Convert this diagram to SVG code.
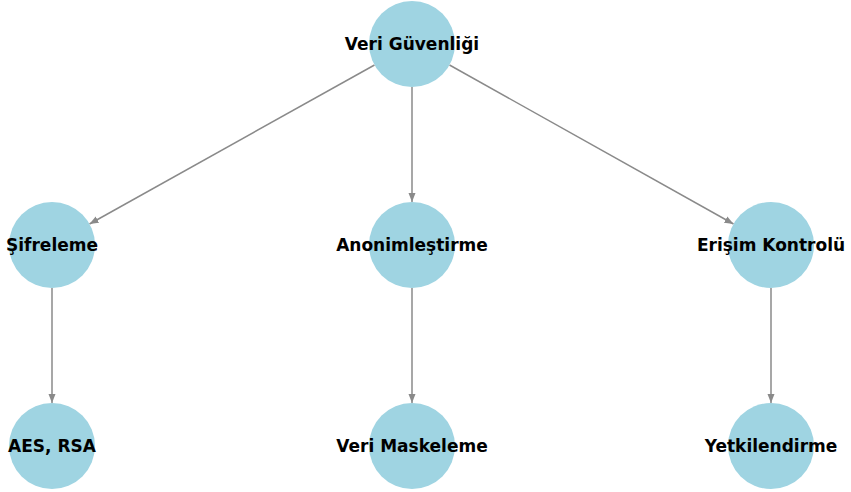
<svg xmlns="http://www.w3.org/2000/svg" width="851" height="492" viewBox="0 0 851 492">
<defs>
<style>
.node circle{fill:#9fd4e2;}
.node text{font-family:"DejaVu Sans",sans-serif;font-weight:bold;font-size:17px;fill:#000;text-anchor:middle;dominant-baseline:central;}
.edge{stroke:#8a8a8a;stroke-width:1.5;fill:none;marker-end:url(#arr);}
</style>
<marker id="arr" markerUnits="userSpaceOnUse" markerWidth="10" markerHeight="8" refX="9" refY="4" orient="auto">
<path d="M0,0.5 L9,4 L0,7.5 Z" fill="#8a8a8a"/>
</marker>
</defs>
<rect width="851" height="492" fill="#fff"/>
<g id="edges">
<line class="edge" x1="374.5" y1="65" x2="89.5" y2="224"/>
<line class="edge" x1="412" y1="87" x2="412" y2="202"/>
<line class="edge" x1="449.5" y1="65" x2="733.5" y2="224"/>
<line class="edge" x1="52" y1="288" x2="52" y2="403"/>
<line class="edge" x1="412" y1="288" x2="412" y2="403"/>
<line class="edge" x1="771" y1="288" x2="771" y2="403"/>
</g>
<g id="n-root" class="node"><circle cx="412" cy="44" r="43"/><text x="412" y="44">Veri Güvenliği</text></g>
<g id="n-sifreleme" class="node"><circle cx="52" cy="245" r="43"/><text x="52" y="245">Şifreleme</text></g>
<g id="n-anonim" class="node"><circle cx="412" cy="245" r="43"/><text x="412" y="245">Anonimleştirme</text></g>
<g id="n-erisim" class="node"><circle cx="771" cy="245" r="43"/><text x="771" y="245">Erişim Kontrolü</text></g>
<g id="n-aes" class="node"><circle cx="52" cy="446" r="43"/><text x="52" y="446">AES, RSA</text></g>
<g id="n-maske" class="node"><circle cx="412" cy="446" r="43"/><text x="412" y="446">Veri Maskeleme</text></g>
<g id="n-yetki" class="node"><circle cx="771" cy="446" r="43"/><text x="771" y="446">Yetkilendirme</text></g>
</svg>
